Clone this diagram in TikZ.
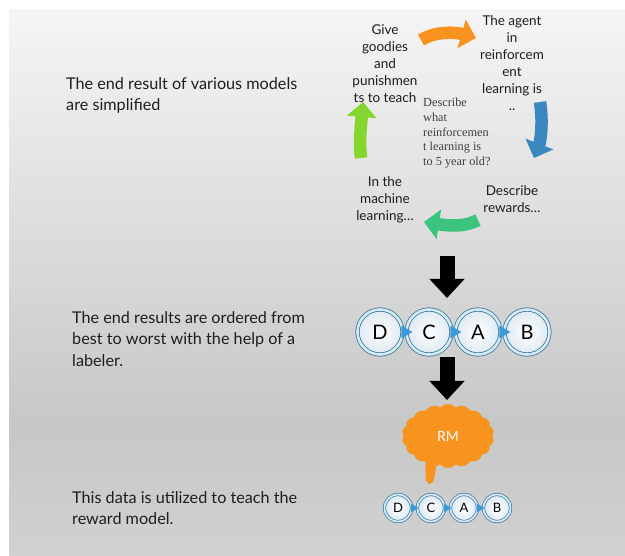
\documentclass[tikz,border=0pt]{standalone}
\usepackage{fontspec}
\setmainfont{Lato}
\newfontfamily\serifface{Liberation Serif}
\usetikzlibrary{arrows.meta,shapes.symbols}
\definecolor{bgtop}{HTML}{F5F5F5}
\definecolor{bgmid}{HTML}{C7C7C7}
\definecolor{bgbot}{HTML}{D1D1D1}
\definecolor{corange}{HTML}{F7931E}
\definecolor{cblue}{HTML}{3A87BD}
\definecolor{cgreen}{HTML}{3CC47E}
\definecolor{clime}{HTML}{84D62E}
\definecolor{ringc}{HTML}{3A7C9C}
\definecolor{bandc}{HTML}{D6E8F2}
\definecolor{fillc}{HTML}{DCE9F1}
\definecolor{tric}{HTML}{3A9BD6}
\definecolor{txt}{HTML}{1E1E1E}
\pgfdeclareverticalshading{bgshade}{100bp}{color(0bp)=(bgbot); color(25bp)=(bgbot); color(37bp)=(bgmid); color(75bp)=(bgtop); color(100bp)=(bgtop)}
\begin{document}
\begin{tikzpicture}[x=1pt,y=-1pt,
  lefttext/.style={anchor=north west, align=left, inner sep=0, text=txt,
    font=\fontsize{16.2}{21.5}\selectfont},
  cyctext/.style={anchor=north, align=center, inner sep=0, text=txt,
    font=\fontsize{13.5}{17}\selectfont},
  blockarrow/.style={line width=12.5pt, -{Triangle[length=15pt,width=29pt]}},
  blackarrow/.style={line width=15pt, black, -{Triangle[length=19pt,width=34pt]}},
  bigball/.style={circle, minimum size=45pt, inner sep=0, draw=ringc, line width=0.8pt,
    double=bandc, double distance=2.6pt,
    inner color=white, outer color=fillc, font=\fontsize{20}{20}\selectfont, text=black},
  smallball/.style={circle, minimum size=27pt, inner sep=0, draw=ringc, line width=0.7pt,
    double=bandc, double distance=1.8pt,
    inner color=white, outer color=fillc, font=\fontsize{13}{13}\selectfont, text=black},
  ptr/.style={fill=tric}
]
\useasboundingbox (0,0) rectangle (625,556);
\fill[white] (0,0) rectangle (625,556);
\shade[shading=bgshade] (9,10) rectangle (625,556);

% left descriptions
\node[lefttext] (t1) at (66,77) {The end result of various models\\are simplified};
\node[lefttext] (t2) at (72,311) {The end results are ordered from\\best to worst with the help of a\\labeler.};
\node[lefttext] (t3) at (72,491) {This data is utilized to teach the\\reward model.};

% cycle texts
\node[cyctext] (give) at (385,24) {Give\\goodies\\and\\punishmen\\ts to teach};
\node[cyctext] (agent) at (512,15) {The agent\\in\\reinforcem\\ent\\learning is\\..};
\node[cyctext] (rew) at (512,185) {Describe\\rewards\dots};
\node[cyctext] (ml) at (385,176) {In the\\machine\\learning\dots};
\node[anchor=north west, align=left, inner sep=0, text=black!75,
  font=\serifface\fontsize{12.3}{14.7}\selectfont] (ctr) at (423,98)
  {Describe\\what\\reinforcemen\\t learning is\\to 5 year old?};

% cycle arrows
\coordinate (o1) at (421,40); \coordinate (o2) at (476,38);
\coordinate (b1) at (540,102); \coordinate (b2) at (534,158);
\coordinate (g1) at (478,220); \coordinate (g2) at (424,222);
\coordinate (l1) at (361,158); \coordinate (l2) at (363,102);
\draw[blockarrow, corange] (o1) .. controls (436,31) and (455,32) .. (o2);
\draw[blockarrow, cblue] (b1) .. controls (543,120) and (541,140) .. (b2);
\draw[blockarrow, cgreen] (g1) .. controls (465,227) and (450,226) .. (g2);
\draw[blockarrow, clime] (l1) .. controls (359,140) and (361,125) .. (l2);

% black arrows
\coordinate (k1) at (447,256); \coordinate (k2) at (447,298);
\coordinate (k3) at (447,357); \coordinate (k4) at (447,400);
\draw[blackarrow] (k1) -- (k2);
\draw[blackarrow] (k3) -- (k4);

% ranking row (big)
\node[bigball] (D) at (380,332) {D};
\node[bigball] (C) at (429,332) {C};
\node[bigball] (A) at (478,332) {A};
\node[bigball] (B) at (527,332) {B};
\foreach \p in {D,C,A}{
  \fill[ptr] ([xshift=-1.5pt,yshift=6.5pt]\p.east) -- ([xshift=-1.5pt,yshift=-6.5pt]\p.east) -- ([xshift=9.5pt]\p.east) -- cycle;
}

% reward model cloud
\fill[corange] (425,458) .. controls (427,472) and (423,481) .. (429,484)
  .. controls (435,485) and (434,474) .. (438,458) -- cycle;
\node[cloud, cloud puffs=18, cloud puff arc=95, aspect=1.5, fill=corange,
  minimum width=92pt, minimum height=64pt, inner sep=0, text=white,
  font=\fontsize{14}{14}\selectfont] (RM) at (448,436) {RM};

% ranking row (small)
\node[smallball] (d) at (398,508) {D};
\node[smallball] (c) at (431,508) {C};
\node[smallball] (a) at (464,508) {A};
\node[smallball] (b) at (497,508) {B};
\foreach \p in {d,c,a}{
  \fill[ptr] ([xshift=-1pt,yshift=4.5pt]\p.east) -- ([xshift=-1pt,yshift=-4.5pt]\p.east) -- ([xshift=6.5pt]\p.east) -- cycle;
}
\end{tikzpicture}
\end{document}
